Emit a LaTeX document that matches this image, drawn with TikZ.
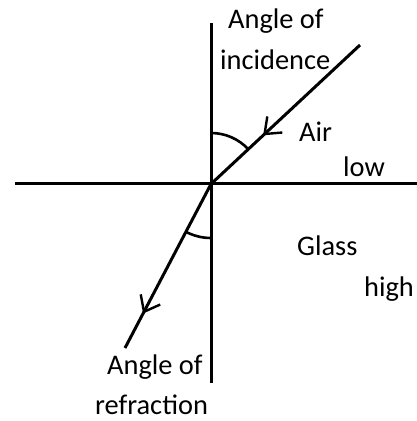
\documentclass[tikz,border=0pt]{standalone}
\usepackage{fontspec}
\setmainfont{Carlito}
\usetikzlibrary{arrows.meta,decorations.markings}
\begin{document}
\begin{tikzpicture}[x=1pt,y=1pt,
  ray/.style={line width=3pt},
  axis/.style={line width=3pt},
  anglearc/.style={line width=2.6pt},
  lbl/.style={anchor=base west,inner sep=0pt,font=\fontsize{28.4}{34}\selectfont},
  midarrow/.style={postaction={decorate},decoration={markings,
     mark=at position #1 with {\arrow[line width=2.4pt]{Straight Barb[length=14pt,width=22pt]}}}}
]
\useasboundingbox (0,0) rectangle (417,421);
\coordinate (O) at (211,237);
\coordinate (vt) at (211,398);
\coordinate (vb) at (211,38);
\coordinate (hl) at (15,237);
\coordinate (hr) at (417,237);
\coordinate (A) at (360,376);
\coordinate (B) at (125,73);
\draw[axis] (vt) -- (vb);
\draw[axis] (hl) -- (hr);
\draw[ray,midarrow=0.65] (A) -- (O);
\draw[ray,midarrow=0.79] (O) -- (B);
\draw[anglearc] ([shift={(90:51pt)}]O) arc[start angle=90,end angle=43,radius=51pt];
\draw[anglearc] ([shift={(242:54pt)}]O) arc[start angle=242,end angle=270,radius=54pt];
\node[lbl] (t1) at (228,392) {Angle of};
\node[lbl] (t2) at (220,351) {incidence};
\node[lbl] (t3) at (299,279) {Air};
\node[lbl] (t4) at (343,244) {low};
\node[lbl] (t5) at (297,165) {Glass};
\node[lbl] (t6) at (364,124) {high};
\node[lbl] (t7) at (107,46) {Angle of};
\node[lbl] (t8) at (95,6) {refraction};
\end{tikzpicture}
\end{document}
